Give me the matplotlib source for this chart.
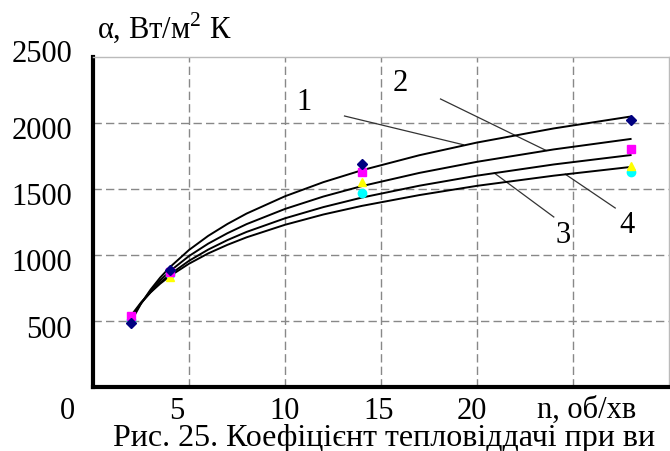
import matplotlib.pyplot as plt
from matplotlib import rcParams
import matplotlib.transforms as mtransforms

rcParams['font.family'] = 'Liberation Serif'
rcParams['mathtext.fontset'] = 'custom'
rcParams['mathtext.rm'] = 'Liberation Serif'

# Дані
n_pts = [2, 4, 14, 28]
alpha_1 = [485, 890, 1689, 2023]   # ромби
alpha_2 = [538, 875, 1629, 1803]   # квадрати
alpha_3 = [515, 835, 1553, 1674]   # трикутники
alpha_4 = [505, 855, 1470, 1629]   # кола

# Лінії тренду (точки зчитані з кривих)
n_curve = [2, 2.5, 3, 3.5, 4, 5, 6, 7, 8, 10, 12, 14, 17, 20, 24, 28]
curve_1 = [500, 631, 738, 829, 907, 1038, 1145, 1235, 1314, 1445, 1552, 1642, 1756, 1852, 1959, 2049]
curve_2 = [520, 635, 729, 808, 877, 992, 1086, 1165, 1234, 1349, 1443, 1522, 1622, 1706, 1800, 1879]
curve_3 = [530, 634, 718, 790, 852, 956, 1041, 1113, 1175, 1278, 1363, 1435, 1525, 1601, 1686, 1757]
curve_4 = [545, 640, 717, 783, 840, 934, 1012, 1077, 1134, 1229, 1307, 1372, 1454, 1524, 1601, 1667]

x_ticks = [0, 5, 10, 15, 20]
y_ticks = [500, 1000, 1500, 2000, 2500]

# Позначки кривих: (текст, позиція тексту, початок і кінець лінії-виноски)
labels = [('1', (11.0, 2155), (13.1, 2053), (19.3, 1835)),
          ('2', (16.0, 2300), (18.1, 2182), (23.6, 1792)),
          ('3', (24.5, 1150), (20.9, 1621), (24.0, 1288)),
          ('4', (27.8, 1225), (24.6, 1612), (27.2, 1356))]

caption = 'Рис. 25. Коефіцієнт тепловіддачі при ви'

fs = 22

fig = plt.figure(figsize=(6.7, 4.51), dpi=100)
ax = fig.add_axes([0.1388, 0.1419, 0.8597, 0.7317])

for c in (curve_1, curve_2, curve_3, curve_4):
    ax.plot(n_curve, c, color='black', lw=1.4, zorder=3)

ax.plot(n_pts, alpha_4, 'o', color='#00FFFF', ms=6, zorder=4)
ax.plot(n_pts, alpha_3, '^', color='#FFFF00', ms=6, zorder=4)
ax.plot(n_pts, alpha_2, 's', color='#FF00FF', ms=6, zorder=4)
ax.plot(n_pts, alpha_1, 'D', color='#000080', ms=5, zorder=5)

for txt, tpos, p0, p1 in labels:
    ax.plot([p0[0], p1[0]], [p0[1], p1[1]], color='#333333', lw=0.9, zorder=2)
    ax.text(tpos[0], tpos[1], txt, fontsize=fs, ha='center', va='center')

ax.set_xlim(0, 30)
ax.set_ylim(0, 2500)
ax.set_xticks([5, 10, 15, 20, 25])
ax.set_yticks([500, 1000, 1500, 2000])
ax.tick_params(length=0, labelbottom=False, labelleft=False)
ax.grid(True, color='#888888', lw=1.0, ls=(0, (6, 3)))
ax.set_axisbelow(True)

ax.spines['left'].set_linewidth(3)
ax.spines['bottom'].set_linewidth(3)
ax.spines['top'].set_color('#BBBBBB')
ax.spines['right'].set_color('#BBBBBB')
ax.spines['top'].set_linewidth(1)
ax.spines['right'].set_linewidth(1)

# Підписи поділок
x_off = [-26, -12, 0, -2, -5]
for v, dx in zip(x_ticks, x_off):
    tr = mtransforms.offset_copy(ax.get_xaxis_transform(), fig=fig, x=dx, y=-24, units='dots')
    ax.text(v, 0, str(v), transform=tr, fontsize=fs, ha='center', va='center', clip_on=False)

y_off = [-9, -8, -8, -8, 3]
for v, dy in zip(y_ticks, y_off):
    tr = mtransforms.offset_copy(ax.get_yaxis_transform(), fig=fig, x=-21, y=dy, units='dots')
    ax.text(0, v, str(v), transform=tr, fontsize=fs, ha='right', va='center', clip_on=False)

fig.text(587 / 670, 1 - 410 / 451, 'n, об/хв', fontsize=fs, ha='center', va='center')
fig.text(97 / 670, 1 - 28 / 451, 'α, Вт/м$^2$ К', fontsize=fs, ha='left', va='center')
fig.text(113 / 670, 1 - 446 / 451, caption, fontsize=23, ha='left', va='baseline')

fig.savefig('out.png', dpi=100, facecolor='white')
